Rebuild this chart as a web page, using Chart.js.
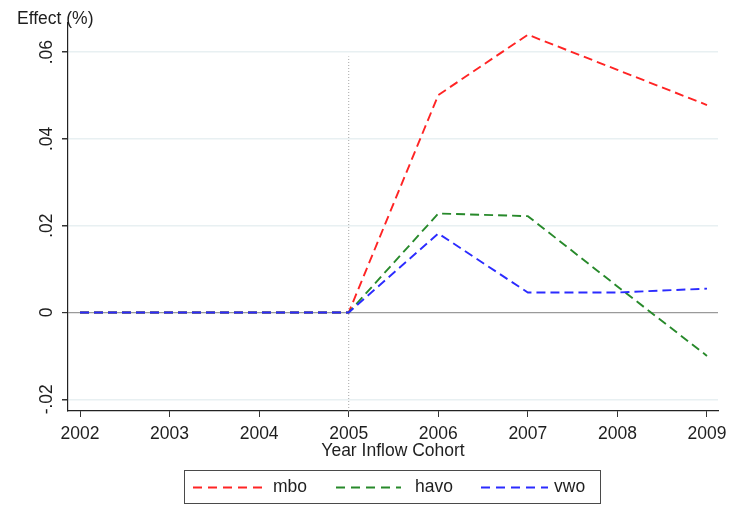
<!DOCTYPE html>
<html>
<head>
<meta charset="utf-8">
<script src="https://cdn.jsdelivr.net/npm/chart.js@4/dist/chart.umd.min.js"></script>
<style>
  html, body { margin: 0; padding: 0; background: #ffffff; }
  #wrap { width: 744px; height: 511px; position: relative; }
</style>
</head>
<body>
<div id="wrap"><canvas id="chart" width="744" height="511"></canvas></div>
<script>
// Cohort years and estimated effects per school track
const years = [2002, 2003, 2004, 2005, 2006, 2007, 2008, 2009];
const mbo  = [0, 0, 0, 0, 0.0501, 0.0640, 0.0559, 0.0478];
const havo = [0, 0, 0, 0, 0.0228, 0.0222, 0.0060, -0.0100];
const vwo  = [0, 0, 0, 0, 0.0182, 0.0046, 0.0046, 0.0055];

const seriesNames = ['mbo', 'havo', 'vwo'];
const yTickValues = [-0.02, 0, 0.02, 0.04, 0.06];
const yTickLabels = ['-.02', '0', '.02', '.04', '.06'];

// Reform year marker
const reformYear = 2005;
const reformLineTop = 0.059;

const yTitle = 'Effect (%)';
const xTitle = 'Year Inflow Cohort';

const FONT = '"Liberation Sans", Arial, sans-serif';
const FS = 17.5;
const TEXT = '#1e1e1e';
const colors = { mbo: '#ff2424', havo: '#27892a', vwo: '#2b2bff' };

const toPoints = arr => years.map((y, i) => ({ x: y, y: arr[i] }));

const decorations = {
  id: 'decorations',
  afterDraw(chart) {
    const ctx = chart.ctx;
    const ys = chart.scales.y;
    const area = chart.chartArea;
    ctx.save();
    ctx.fillStyle = TEXT;
    ctx.font = FS + 'px ' + FONT;

    // rotated y tick labels
    yTickValues.forEach((v, i) => {
      const py = ys.getPixelForValue(v);
      ctx.save();
      ctx.translate(46, py);
      ctx.rotate(-Math.PI / 2);
      ctx.textAlign = 'center';
      ctx.textBaseline = 'middle';
      ctx.fillText(yTickLabels[i], 0, 1);
      ctx.restore();
    });

    // axis titles
    ctx.textAlign = 'left';
    ctx.textBaseline = 'alphabetic';
    ctx.fillText(yTitle, 17, 24);
    ctx.textAlign = 'center';
    ctx.fillText(xTitle, (area.left + area.right) / 2, 456);

    // legend box
    const lx = 184, ly = 470, lw = 416, lh = 33;
    ctx.strokeStyle = '#4a4a4a';
    ctx.lineWidth = 1;
    ctx.strokeRect(lx + 0.5, ly + 0.5, lw, lh);
    const cy = ly + lh / 2 + 1;
    const items = [
      { name: seriesNames[0], c: colors.mbo,  x0: 193, x1: 262, tx: 273 },
      { name: seriesNames[1], c: colors.havo, x0: 336, x1: 401, tx: 415 },
      { name: seriesNames[2], c: colors.vwo,  x0: 481, x1: 548, tx: 554 }
    ];
    ctx.textAlign = 'left';
    items.forEach(it => {
      ctx.strokeStyle = it.c;
      ctx.lineWidth = 1.8;
      ctx.setLineDash([9, 6]);
      ctx.beginPath();
      ctx.moveTo(it.x0, cy);
      ctx.lineTo(it.x1, cy);
      ctx.stroke();
      ctx.setLineDash([]);
      ctx.fillStyle = TEXT;
      ctx.textBaseline = 'middle';
      ctx.fillText(it.name, it.tx, cy);
    });
    ctx.restore();
  }
};

new Chart(document.getElementById('chart'), {
  type: 'line',
  data: {
    datasets: [
      {
        label: 'reform',
        data: [{ x: reformYear, y: -0.0227 }, { x: reformYear, y: reformLineTop }],
        borderColor: '#a8a8a8',
        borderWidth: 1,
        borderDash: [1, 2],
        pointRadius: 0,
        order: 5
      },
      {
        label: seriesNames[0],
        data: toPoints(mbo),
        borderColor: colors.mbo,
        borderWidth: 1.9,
        borderDash: [9, 5],
        pointRadius: 0,
        tension: 0,
        order: 3
      },
      {
        label: seriesNames[1],
        data: toPoints(havo),
        borderColor: colors.havo,
        borderWidth: 1.9,
        borderDash: [9, 5],
        pointRadius: 0,
        tension: 0,
        order: 2
      },
      {
        label: seriesNames[2],
        data: toPoints(vwo),
        borderColor: colors.vwo,
        borderWidth: 1.9,
        borderDash: [9, 5],
        pointRadius: 0,
        tension: 0,
        order: 1
      }
    ]
  },
  options: {
    responsive: false,
    animation: false,
    events: [],
    layout: { padding: { top: 23, right: 26, bottom: 0, left: 0 } },
    plugins: {
      legend: { display: false },
      tooltip: { enabled: false },
      title: { display: false }
    },
    scales: {
      x: {
        type: 'linear',
        min: 2001.866,
        max: 2009.123,
        afterBuildTicks: s => { s.ticks = years.map(v => ({ value: v })); },
        afterFit: s => { s.height = 100; },
        ticks: {
          color: TEXT,
          font: { family: FONT, size: FS },
          padding: 7,
          maxRotation: 0,
          callback: v => String(v)
        },
        grid: {
          drawOnChartArea: false,
          drawTicks: true,
          tickLength: 6,
          tickColor: '#333333'
        },
        border: { display: true, color: '#222222', width: 1.2 }
      },
      y: {
        type: 'linear',
        min: -0.0227,
        max: 0.0667,
        afterBuildTicks: s => { s.ticks = yTickValues.map(v => ({ value: v })); },
        afterFit: s => { s.width = 68; },
        ticks: {
          color: 'rgba(0,0,0,0)',
          font: { family: FONT, size: FS },
          callback: (v) => {
            const i = yTickValues.indexOf(v);
            return i >= 0 ? yTickLabels[i] : '';
          }
        },
        grid: {
          drawOnChartArea: true,
          drawTicks: true,
          tickLength: 6,
          tickColor: '#333333',
          color: ctx => (ctx.tick && ctx.tick.value === 0) ? '#9a9a9a' : '#e8f0f2',
          lineWidth: ctx => (ctx.tick && ctx.tick.value === 0) ? 1.2 : 1.5
        },
        border: { display: true, color: '#222222', width: 1.2 }
      }
    }
  },
  plugins: [decorations]
});
</script>
</body>
</html>
